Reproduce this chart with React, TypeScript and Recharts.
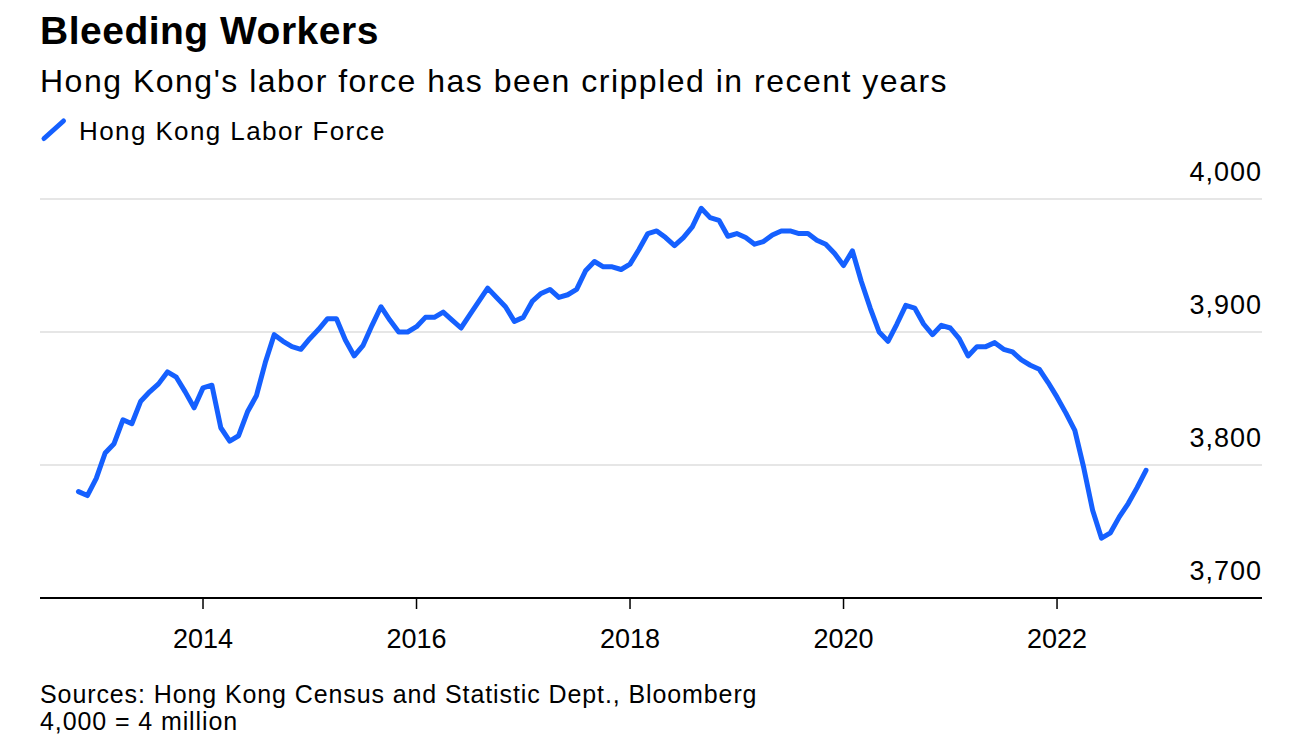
import React from 'react';
import { LineChart, Line, XAxis, YAxis, CartesianGrid } from 'recharts';

const FONT = "'Liberation Sans', Arial, Helvetica, sans-serif";
const BLUE = '#1560ff';

// Hong Kong labor force, thousands, 3-month moving periods ending Oct 2012 .. Oct 2022
const START_YEAR = 2012;
const START_MONTH = 10;
const laborForce = [
    3780, 3777, 3790, 3809, 3816, 3834, 3831, 3848, 3855, 3861,
    3870, 3866, 3855, 3843, 3858, 3860, 3828, 3818, 3822, 3840,
    3852, 3877, 3898, 3893, 3889, 3887, 3895, 3902, 3910, 3910,
    3894, 3882, 3890, 3905, 3919, 3909, 3900, 3900, 3904, 3911,
    3911, 3915, 3909, 3903, 3913, 3923, 3933, 3926, 3919, 3908,
    3911, 3923, 3929, 3932, 3926, 3928, 3932, 3946, 3953, 3949,
    3949, 3947, 3951, 3962, 3974, 3976, 3971, 3965, 3971, 3979,
    3993, 3986, 3984, 3972, 3974, 3971, 3966, 3968, 3973, 3976,
    3976, 3974, 3974, 3969, 3966, 3959, 3950, 3961, 3938, 3918,
    3900, 3893, 3906, 3920, 3918, 3906, 3898, 3905, 3903, 3895,
    3882, 3889, 3889, 3892, 3887, 3885, 3879, 3875, 3872, 3862,
    3851, 3839, 3826, 3798, 3766, 3745, 3749, 3761, 3771, 3783,
    3796,
];
const yearTicks = [2014, 2016, 2018, 2020, 2022];
const valueTicks = [3700, 3800, 3900, 4000];

const TITLE = 'Bleeding Workers';
const SUBTITLE = "Hong Kong's labor force has been crippled in recent years";
const LEGEND = 'Hong Kong Labor Force';
const SOURCE = 'Sources: Hong Kong Census and Statistic Dept., Bloomberg';
const NOTE = '4,000 = 4 million';

// x is the decimal year at the end of each reading's month
const data = laborForce.map((value, i) => {
    const m = START_MONTH - 1 + i;
    const year = START_YEAR + Math.floor(m / 12);
    const month = (m % 12) + 1;
    return { t: year + month / 12, value };
});

const YTick = ({ x, y, payload }: any) => (
    <text x={x} y={y - 18} textAnchor="end" fontFamily={FONT} fontSize={27}
        letterSpacing={1} fill="#000">
        {Number(payload.value).toLocaleString('en-US')}
    </text>
);

const XTick = ({ x, y, payload }: any) => (
    <text x={x} y={y + 39} textAnchor="middle" fontFamily={FONT} fontSize={27} fill="#000">
        {payload.value}
    </text>
);

const abs = (style: React.CSSProperties): React.CSSProperties => ({
    position: 'absolute', fontFamily: FONT, color: '#000', whiteSpace: 'nowrap', margin: 0, ...style,
});

export default function App() {
    return (
        <div style={{ position: 'absolute', left: 0, top: 0, width: 1310, height: 746, background: '#fff', overflow: 'hidden' }}>
            <div style={{ position: 'absolute', left: 0, top: 0 }}>
                <LineChart width={1310} height={746} data={data}
                    margin={{ top: 199, right: 0, left: 40, bottom: 108 }}>
                    <CartesianGrid vertical={false} stroke="#e6e6e6" strokeWidth={2} />
                    <XAxis dataKey="t" type="number" domain={[2012.473, 2023.92]} allowDataOverflow
                        ticks={yearTicks} interval={0} height={40} tickSize={11} tickMargin={0}
                        axisLine={{ stroke: '#000', strokeWidth: 2 }}
                        tickLine={{ stroke: '#000', strokeWidth: 1.5 }}
                        tick={<XTick />} />
                    <YAxis orientation="right" type="number" domain={[3700, 4000]} ticks={valueTicks}
                        interval={0} width={48} tickSize={0} tickMargin={0}
                        axisLine={false} tickLine={false} tick={<YTick />} />
                    <Line type="linear" dataKey="value" stroke={BLUE} strokeWidth={5} dot={false}
                        strokeLinejoin="round" strokeLinecap="round" isAnimationActive={false} />
                </LineChart>
            </div>

            <div style={abs({ left: 40, top: 11, fontSize: 39, lineHeight: '39px', fontWeight: 700, letterSpacing: 0.5 })}>
                {TITLE}
            </div>
            <div style={abs({ left: 40, top: 65, fontSize: 32, lineHeight: '32px', letterSpacing: 1.5 })}>
                {SUBTITLE}
            </div>
            <svg style={{ position: 'absolute', left: 38, top: 115 }} width={30} height={30}>
                <line x1={6} y1={23.5} x2={25.5} y2={6} stroke={BLUE} strokeWidth={5} strokeLinecap="round" />
            </svg>
            <div style={abs({ left: 79, top: 118, fontSize: 26, lineHeight: '26px', letterSpacing: 1.4 })}>
                {LEGEND}
            </div>

            <div style={abs({ left: 40, top: 682, fontSize: 25, lineHeight: '25px', letterSpacing: 0.9 })}>
                {SOURCE}
            </div>
            <div style={abs({ left: 40, top: 709, fontSize: 25, lineHeight: '25px', letterSpacing: 0.9 })}>
                {NOTE}
            </div>
        </div>
    );
}
